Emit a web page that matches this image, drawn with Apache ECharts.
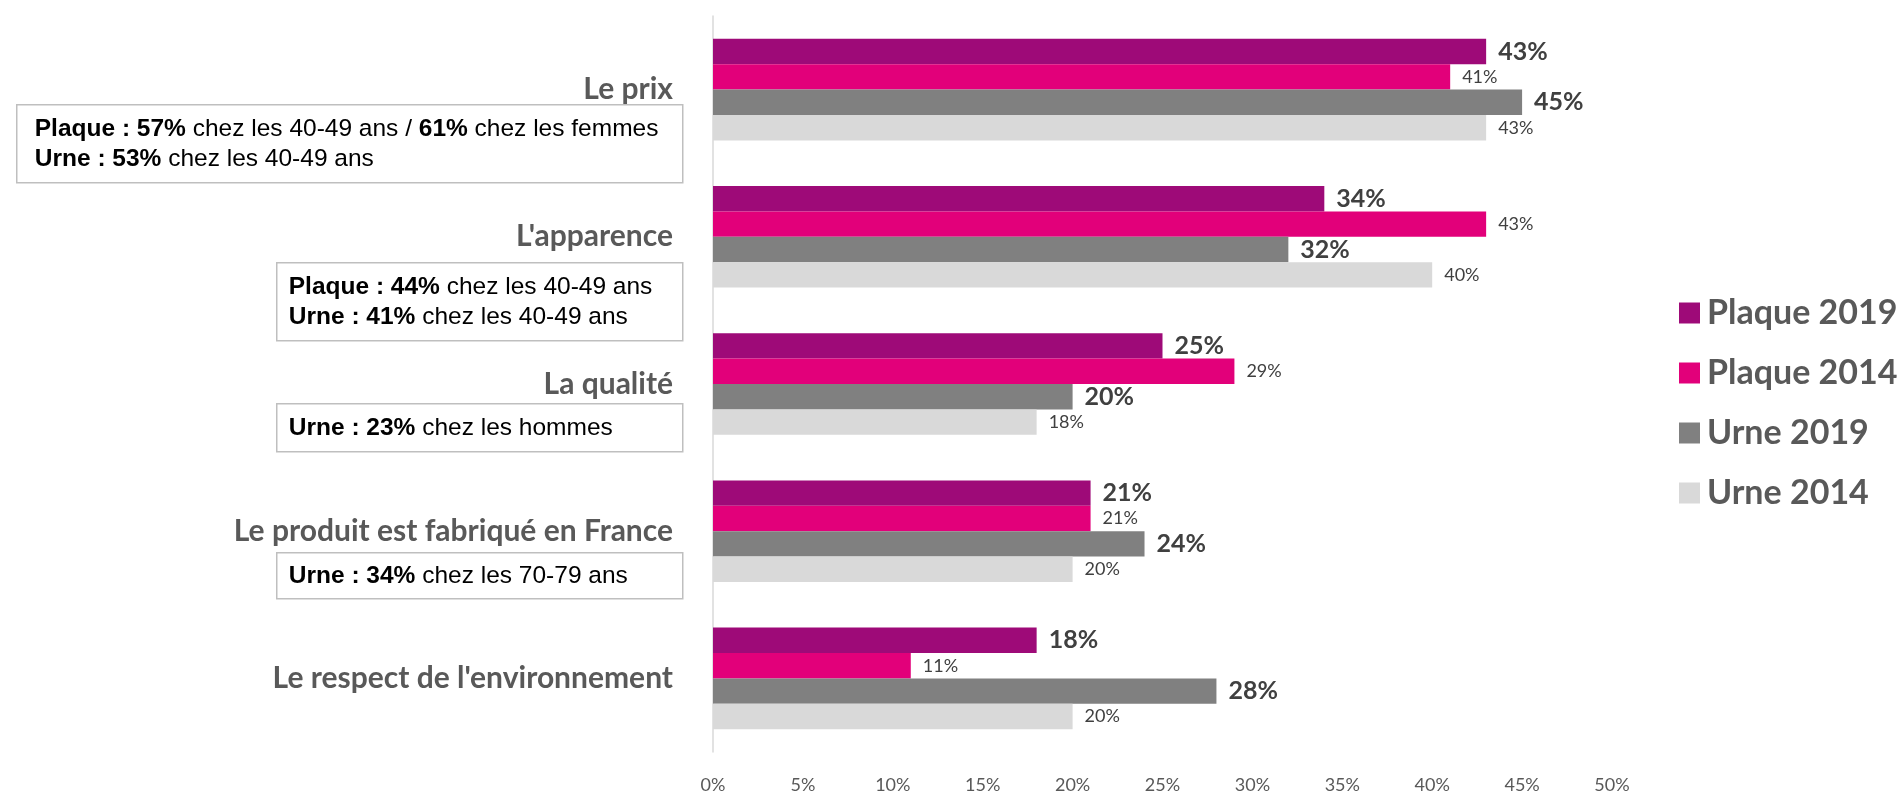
<!DOCTYPE html>
<html>
<head>
<meta charset="utf-8">
<script src="https://cdn.jsdelivr.net/npm/echarts@6/dist/echarts.min.js"></script>
<style>
  html, body { margin: 0; padding: 0; background: #fff; }
  #chart { width: 1899px; height: 794px; }
</style>
</head>
<body>
<div id="chart"></div>
<script>
// Critères de choix, en % des répondants
const categories = [
  'Le prix',
  "L'apparence",
  'La qualité',
  'Le produit est fabriqué en France',
  "Le respect de l'environnement"
];
const seriesNames = ['Plaque 2019', 'Plaque 2014', 'Urne 2019', 'Urne 2014'];
const plaque2019 = [43, 34, 25, 21, 18];
const plaque2014 = [41, 43, 29, 21, 11];
const urne2019 = [45, 32, 20, 24, 28];
const urne2014 = [43, 40, 18, 20, 20];
const xTicks = { min: 0, max: 50, step: 5 };

// Encadrés de détail par profil (lignes en texte riche : {b|...} = gras)
const notes = [
  ['{b|Plaque : 57%} chez les 40-49 ans / {b|61%} chez les femmes', '{b|Urne : 53%} chez les 40-49 ans'],
  ['{b|Plaque : 44%} chez les 40-49 ans', '{b|Urne : 41%} chez les 40-49 ans'],
  ['{b|Urne : 23%} chez les hommes'],
  ['{b|Urne : 34%} chez les 70-79 ans']
];

const colors = ['#9E0A78', '#E2007A', '#808080', '#D9D9D9'];
const seriesData = [plaque2019, plaque2014, urne2019, urne2014];

const chart = echarts.init(document.getElementById('chart'));

const boldLabel = {
  show: true, position: 'right', distance: 12,
  formatter: '{c}%', fontFamily: 'Lato', fontWeight: 'bold',
  fontSize: 25, color: '#404040'
};
const lightLabel = {
  show: true, position: 'right', distance: 12,
  formatter: '{c}%', fontFamily: 'Lato', fontWeight: 'normal',
  fontSize: 18, color: '#404040'
};

const series = seriesNames.map((name, i) => ({
  name,
  type: 'bar',
  data: seriesData[i],
  barCategoryGap: '31%',
  barGap: '0%',
  itemStyle: { color: colors[i] },
  label: (i === 0 || i === 2) ? boldLabel : lightLabel,
  emphasis: { disabled: true }
}));

// Encadrés : [x, y, largeur, hauteur, retrait du texte]
const boxes = [
  [16, 104, 666, 78, 18],
  [276, 262, 406, 78, 12],
  [276, 403, 406, 48, 12],
  [276, 552, 406, 46, 12]
];
const graphic = notes.map((lines, i) => {
  const [x, y, w, h, pad] = boxes[i];
  return {
    type: 'group',
    left: x, top: y,
    children: [
      { type: 'rect', shape: { x: 0, y: 0, width: w, height: h },
        style: { fill: '#fff', stroke: '#BFBFBF', lineWidth: 1.5 } },
      { type: 'text', x: pad, y: h / 2,
        style: {
          text: lines.join('\n'),
          fontFamily: 'Liberation Sans', fontSize: 24.5, lineHeight: 30,
          fill: '#000', verticalAlign: 'middle', align: 'left',
          rich: { b: { fontFamily: 'Liberation Sans', fontSize: 24.5, fontWeight: 'bold', fill: '#000', lineHeight: 30 } }
        } }
    ]
  };
});

chart.setOption({
  animation: false,
  grid: { left: 713, right: 287, top: 16, bottom: 40, containLabel: false },
  legend: {
    orient: 'vertical',
    left: 1674, top: 291,
    icon: 'rect', itemWidth: 21, itemHeight: 21, itemGap: 26,
    selectedMode: false,
    textStyle: { fontFamily: 'Lato', fontWeight: 'bold', fontSize: 34, lineHeight: 34, color: '#595959', padding: [0, 0, 0, 2] },
    data: seriesNames
  },
  xAxis: {
    type: 'value',
    min: xTicks.min, max: xTicks.max, interval: xTicks.step,
    axisLine: { show: false }, axisTick: { show: false },
    splitLine: { show: false },
    axisLabel: { formatter: '{value}%', fontFamily: 'Lato', fontSize: 18, color: '#595959', margin: 24 }
  },
  yAxis: {
    type: 'category',
    data: categories,
    inverse: true,
    axisLine: { show: true, lineStyle: { color: '#D9D9D9', width: 1.5 } },
    axisTick: { show: false },
    axisLabel: { fontFamily: 'Lato', fontWeight: 'bold', fontSize: 30, color: '#595959', margin: 40 }
  },
  series,
  graphic
});
</script>
</body>
</html>
